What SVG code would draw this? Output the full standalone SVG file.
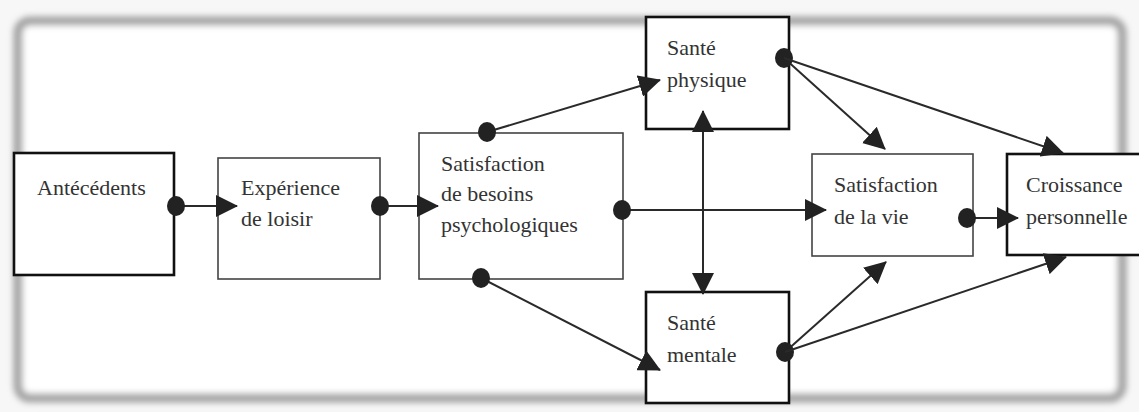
<svg xmlns="http://www.w3.org/2000/svg" width="1139" height="412" viewBox="0 0 1139 412">
<style>
  .t { font-family: "Liberation Serif", "Times New Roman", serif; font-size: 22px; fill: #333; }
  .thick { fill: #fff; stroke: #111; stroke-width: 2.6; }
  .thin { fill: #fff; stroke: #444; stroke-width: 1.6; }
  .c { fill: none; stroke: #2a2a2a; stroke-width: 2; }
</style>
<defs>
  <filter id="blur" x="-5%" y="-5%" width="110%" height="110%"><feGaussianBlur stdDeviation="3"/></filter>
  <marker id="arr" markerWidth="22" markerHeight="22" refX="21" refY="11" orient="auto-start-reverse" markerUnits="userSpaceOnUse">
    <path d="M0,0 L22,11 L0,22 z" fill="#222"/>
  </marker>
  <marker id="dot" markerWidth="20" markerHeight="22" refX="10" refY="11" markerUnits="userSpaceOnUse">
    <ellipse cx="10" cy="11" rx="9" ry="10" fill="#222"/>
  </marker>
</defs>
<rect width="1139" height="412" fill="#f7f7f7"/>
<rect id="frame" x="18" y="21" width="1104" height="377" rx="12" fill="#fff" stroke="#a2a2a2" stroke-width="9" filter="url(#blur)"/>

<g id="n-antecedents">
  <rect class="thick" x="14" y="153" width="160" height="122"/>
  <text class="t" x="37" y="195">Antécédents</text>
</g>
<g id="n-experience">
  <rect class="thin" x="218" y="158" width="162" height="121"/>
  <text class="t" x="241" y="195">Expérience</text>
  <text class="t" x="241" y="226">de loisir</text>
</g>
<g id="n-besoins">
  <rect class="thin" x="419" y="133" width="204" height="146"/>
  <text class="t" x="441" y="171">Satisfaction</text>
  <text class="t" x="441" y="201">de besoins</text>
  <text class="t" x="441" y="232">psychologiques</text>
</g>
<g id="n-physique">
  <rect class="thick" x="646" y="17" width="143" height="112"/>
  <text class="t" x="667" y="55">Santé</text>
  <text class="t" x="667" y="87">physique</text>
</g>
<g id="n-mentale">
  <rect class="thick" x="646" y="292" width="143" height="111"/>
  <text class="t" x="667" y="330">Santé</text>
  <text class="t" x="667" y="362">mentale</text>
</g>
<g id="n-vie">
  <rect class="thin" x="812" y="154" width="161" height="102"/>
  <text class="t" x="834" y="192">Satisfaction</text>
  <text class="t" x="834" y="224">de la vie</text>
</g>
<g id="n-croissance">
  <rect class="thick" x="1007" y="154" width="140" height="101"/>
  <text class="t" x="1026" y="192">Croissance</text>
  <text class="t" x="1026" y="224">personnelle</text>
</g>

<g id="connectors">
  <line class="c" x1="176" y1="206" x2="237" y2="206" marker-start="url(#dot)" marker-end="url(#arr)"/>
  <line class="c" x1="380" y1="206" x2="438" y2="206" marker-start="url(#dot)" marker-end="url(#arr)"/>
  <line class="c" x1="487" y1="132" x2="660" y2="80" marker-start="url(#dot)" marker-end="url(#arr)"/>
  <line class="c" x1="481" y1="278" x2="660" y2="370" marker-start="url(#dot)" marker-end="url(#arr)"/>
  <line class="c" x1="622" y1="210" x2="826" y2="210" marker-start="url(#dot)" marker-end="url(#arr)"/>
  <line class="c" x1="703" y1="111" x2="703" y2="294" marker-start="url(#arr)" marker-end="url(#arr)"/>
  <line class="c" x1="784" y1="58" x2="885" y2="149" marker-start="url(#dot)" marker-end="url(#arr)"/>
  <line class="c" x1="784" y1="58" x2="1063" y2="153" marker-end="url(#arr)"/>
  <line class="c" x1="967" y1="218" x2="1018" y2="218" marker-start="url(#dot)" marker-end="url(#arr)"/>
  <line class="c" x1="785" y1="352" x2="886" y2="262" marker-start="url(#dot)" marker-end="url(#arr)"/>
  <line class="c" x1="785" y1="352" x2="1066" y2="257" marker-end="url(#arr)"/>
</g>
</svg>
